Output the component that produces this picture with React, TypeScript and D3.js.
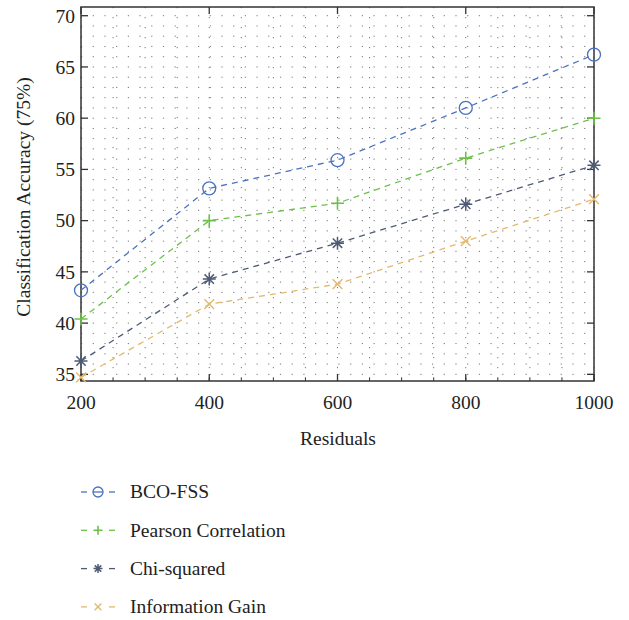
import React from "react";
import * as d3 from "d3";

const residuals = [200, 400, 600, 800, 1000];
const bcoFss = [43.2, 53.15, 55.9, 61.0, 66.2];
const pearson = [40.4, 50.0, 51.7, 56.1, 60.0];
const chiSquared = [36.3, 44.3, 47.8, 51.6, 55.4];
const infoGain = [34.7, 41.85, 43.8, 48.0, 52.1];
const seriesNames = ["BCO-FSS", "Pearson Correlation", "Chi-squared", "Information Gain"];
const seriesColors = ["#4a72c0", "#6cc04a", "#4e5a76", "#e3b96c"];
const seriesMarkers = ["circle", "plus", "star", "cross"];
const xTicks = [200, 400, 600, 800, 1000];
const yTicks = [35, 40, 45, 50, 55, 60, 65, 70];

const W = 629, H = 620;
const left = 81, right = 594, top = 7, bottom = 381;
const FONT = "'Liberation Serif', 'Times New Roman', serif";
const FS = 19.5;

function Marker({ type, x, y, color, size }: { type: string; x: number; y: number; color: string; size: number }) {
  const r = size;
  if (type === "circle") return <circle cx={x} cy={y} r={r} fill="none" stroke={color} strokeWidth={1.3} />;
  if (type === "plus")
    return <path d={`M${x - r},${y}H${x + r}M${x},${y - r}V${y + r}`} stroke={color} strokeWidth={1.6} />;
  if (type === "cross") {
    const k = r * 0.75;
    return <path d={`M${x - k},${y - k}L${x + k},${y + k}M${x - k},${y + k}L${x + k},${y - k}`} stroke={color} strokeWidth={1.4} />;
  }
  const k = r * 0.72;
  return (
    <path
      d={`M${x - r},${y}H${x + r}M${x},${y - r}V${y + r}M${x - k},${y - k}L${x + k},${y + k}M${x - k},${y + k}L${x + k},${y - k}`}
      stroke={color}
      strokeWidth={1.5}
    />
  );
}

export default function App() {
  const x = d3.scaleLinear().domain([200, 1000]).range([left, right]);
  const y = d3.scaleLinear().domain([34.35, 70.85]).range([bottom, top]);
  const data = [bcoFss, pearson, chiSquared, infoGain];
  const line = d3
    .line<number>()
    .x((_, i) => x(residuals[i]))
    .y((d) => y(d));

  const vGrid = d3.range(200, 1001, 50);
  const hGrid = d3.range(35, 71, 1);
  const xMinor = d3.range(200, 1001, 50);

  return (
    <svg width={W} height={H} style={{ position: "absolute", left: 0, top: 0, background: "#fff" }}>
      {/* grid */}
      <g>
        {hGrid.map((v) => (
          <line key={"h" + v} x1={left} x2={right} y1={y(v)} y2={y(v)} stroke="#777" strokeWidth={1} strokeDasharray="1.2,10.5" />
        ))}
        {vGrid.map((v) => (
          <line key={"v" + v} x1={x(v)} x2={x(v)} y1={top} y2={bottom} stroke="#777" strokeWidth={1} strokeDasharray="1.2,8.8" />
        ))}
      </g>
      {/* axes frame */}
      <rect x={left} y={top} width={right - left} height={bottom - top} fill="none" stroke="#333" strokeWidth={1.5} />
      {yTicks.map((t) => (
        <g key={"yt" + t}>
          <line x1={left} x2={left + 7} y1={y(t)} y2={y(t)} stroke="#333" strokeWidth={1.3} />
          <line x1={right} x2={right - 7} y1={y(t)} y2={y(t)} stroke="#333" strokeWidth={1.3} />
          <text x={left - 6} y={y(t)} dy="0.35em" textAnchor="end" fontFamily={FONT} fontSize={FS} fill="#222">
            {t}
          </text>
        </g>
      ))}
      {xTicks.map((t) => (
        <g key={"xt" + t}>
          <line x1={x(t)} x2={x(t)} y1={bottom} y2={bottom - 7} stroke="#333" strokeWidth={1.3} />
          <line x1={x(t)} x2={x(t)} y1={top} y2={top + 7} stroke="#333" strokeWidth={1.3} />
          <text x={x(t)} y={bottom + 28} textAnchor="middle" fontFamily={FONT} fontSize={FS} fill="#222">
            {t}
          </text>
        </g>
      ))}
      {xMinor.map((t) => (
        <line key={"xm" + t} x1={x(t)} x2={x(t)} y1={bottom} y2={bottom - 3} stroke="#333" strokeWidth={1} />
      ))}
      <text
        transform={`translate(30,${(top + bottom) / 2 + 3}) rotate(-90)`}
        textAnchor="middle"
        fontFamily={FONT}
        fontSize={FS}
        fill="#222"
      >
        Classification Accuracy (75%)
      </text>
      <text x={338} y={445} textAnchor="middle" fontFamily={FONT} fontSize={FS} fill="#222">
        Residuals
      </text>
      {/* series */}
      {data.map((vals, si) => (
        <g key={"s" + si}>
          <path d={line(vals) || ""} fill="none" stroke={seriesColors[si]} strokeWidth={1.3} strokeDasharray="6,5" />
          {vals.map((v, i) => (
            <Marker key={i} type={seriesMarkers[si]} x={x(residuals[i])} y={y(v)} color={seriesColors[si]} size={6.5} />
          ))}
        </g>
      ))}
      {/* legend */}
      {seriesNames.map((name, si) => {
        const ly = 492 + si * 38.3;
        const c = seriesColors[si];
        return (
          <g key={"l" + si}>
            <line x1={81} x2={87} y1={ly} y2={ly} stroke={c} strokeWidth={1.3} />
            <line x1={109} x2={115} y1={ly} y2={ly} stroke={c} strokeWidth={1.3} />
            {si === 0 ? (
              <g>
                <circle cx={98} cy={ly} r={5} fill="none" stroke={c} strokeWidth={1.3} />
                <line x1={93} x2={103} y1={ly} y2={ly} stroke={c} strokeWidth={1.3} />
              </g>
            ) : (
              <Marker type={seriesMarkers[si]} x={98} y={ly} color={c} size={4.5} />
            )}
            <text x={130} y={ly} dy="0.33em" fontFamily={FONT} fontSize={FS} fill="#222">
              {name}
            </text>
          </g>
        );
      })}
    </svg>
  );
}
